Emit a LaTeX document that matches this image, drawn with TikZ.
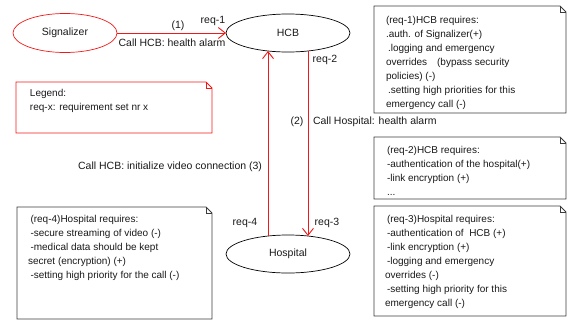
\documentclass[tikz,border=0pt]{standalone}
\usepackage{fontspec}
\setmainfont{Liberation Sans}
\usetikzlibrary{shapes.geometric,arrows.meta}
\definecolor{rl}{RGB}{240,25,25}
\definecolor{nb}{RGB}{60,60,60}
\definecolor{tx}{RGB}{25,25,25}
\newcommand\mynote[5]{%
  \draw[#5] (#1,#2) -- ({#3-6},#2) -- (#3,{#2+6}) -- (#3,#4) -- (#1,#4) -- cycle;
  \draw[#5] ({#3-6},#2) -- ({#3-6},{#2+6}) -- (#3,{#2+6});}
\begin{document}
\begin{tikzpicture}[x=1pt,y=-1pt,
  every node/.style={inner sep=0pt, outer sep=0pt, text=tx, font=\fontsize{10.5}{12}\selectfont},
  actor/.style={ellipse, draw=black, line width=0.7pt, minimum width=124pt, minimum height=38pt},
  redline/.style={draw=rl, line width=0.9pt},
  tipv/.style={-{Straight Barb[length=7pt,width=11pt]}},
  notetext/.style={align=left, anchor=north west, font=\fontsize{10}{14.1}\selectfont},
  noteblack/.style={draw=nb, line width=0.8pt},
  notered/.style={draw=rl, line width=0.8pt}]
\useasboundingbox (0,0) rectangle (568,322);

% actors
\node[actor, draw=rl, minimum width=104pt, minimum height=39pt] (sig) at (65,33) {Signalizer};
\node[actor] (hcb) at (288,33) {HCB};
\node[actor] (hosp) at (288,254) {Hospital};

% connectors
\draw[redline, tipv] (sig.east) -- (hcb.west);
\draw[redline, tipv] (hosp.138) -- (hcb.222);
\draw[redline, tipv] (hcb.318) -- (hosp.42);

% connector labels
\node (l1) at (178,26) {(1)};
\node (r1) at (213,21) {req-1};
\node (c1) at (172,43) {Call HCB: health alarm};
\node (r2) at (325,60) {req-2};
\node (l2) at (297,122) {(2)};
\node[anchor=west] (c2) at (313,122) {Call Hospital: health alarm};
\node[anchor=east] (c3) at (262,167) {Call HCB: initialize video connection (3)};
\node (r4) at (245,223) {req-4};
\node (r3) at (327,223) {req-3};

% notes
\mynote{374}{6}{566}{113}{noteblack}
\node[notetext] (t1) at (386,16) {(req-1)HCB requires:\\
.auth. of Signalizer(+)\\
\hspace*{2pt}.logging and emergency\\
overrides\hspace{10pt}(bypass security\\
policies) (-)\\
\hspace*{2pt}.setting high priorities for this\\
emergency call (-)};

\mynote{16}{82}{212}{133}{notered}
\node[notetext] (tl) at (30,89) {Legend:\\
req-x: requirement set nr x};

\mynote{374}{137}{566}{199}{noteblack}
\node[notetext] (t2) at (387,146) {(req-2)HCB requires:\\
-authentication of the hospital(+)\\
-link encryption (+)\\
...};

\mynote{374}{206}{566}{316}{noteblack}
\node[notetext] (t3) at (385,215) {\hspace*{2pt}(req-3)Hospital requires:\\
\hspace*{2pt}-authentication of\ \ HCB (+)\\
\hspace*{2pt}-link encryption (+)\\
\hspace*{2pt}-logging and emergency\\
overrides (-)\\
\hspace*{2pt}-setting high priority for this\\
emergency call (-)};

\mynote{17}{207}{212}{319}{noteblack}
\node[notetext] (t4) at (28,215) {\hspace*{2.5pt}(req-4)Hospital requires:\\
\hspace*{2.5pt}-secure streaming of video (-)\\
\hspace*{2.5pt}-medical data should be kept\\
secret (encryption) (+)\\
\hspace*{2.5pt}-setting high priority for the call (-)};
\end{tikzpicture}
\end{document}
